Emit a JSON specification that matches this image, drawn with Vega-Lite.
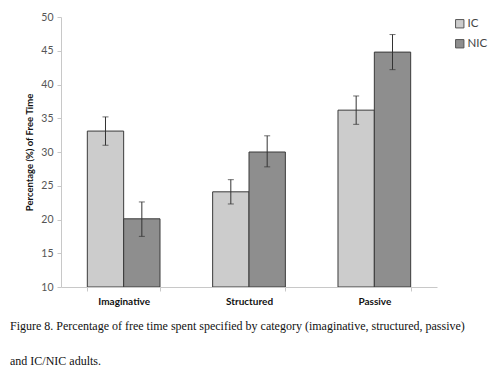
{
  "$schema": "https://vega.github.io/schema/vega-lite/v6.json",
  "autosize": {"type": "none"},
  "width": 376,
  "height": 270,
  "padding": {"left": 61, "top": 17, "right": 63, "bottom": 88},
  "background": "white",
  "config": {"view": {"stroke": null}, "font": "Lato"},
  "title": {
    "text": ["Figure 8. Percentage of free time spent specified by category (imaginative, structured, passive)", "and IC/NIC adults."],
    "orient": "bottom",
    "anchor": "start",
    "frame": "group",
    "dx": -51,
    "offset": 15,
    "font": "Liberation Serif",
    "fontSize": 12,
    "fontWeight": "normal",
    "color": "#111",
    "lineHeight": 35
  },
  "data": {"values": [
    {"category": "Imaginative", "group": "IC", "value": 33.1, "lo": 31.0, "hi": 35.2},
    {"category": "Imaginative", "group": "NIC", "value": 20.1, "lo": 17.5, "hi": 22.6},
    {"category": "Structured", "group": "IC", "value": 24.1, "lo": 22.3, "hi": 25.9},
    {"category": "Structured", "group": "NIC", "value": 30.0, "lo": 27.8, "hi": 32.4},
    {"category": "Passive", "group": "IC", "value": 36.2, "lo": 34.1, "hi": 38.3},
    {"category": "Passive", "group": "NIC", "value": 44.8, "lo": 42.2, "hi": 47.4}
  ]},
  "encoding": {
    "x": {
      "field": "category", "type": "nominal",
      "sort": ["Imaginative", "Structured", "Passive"],
      "scale": {"paddingInner": 0.42, "paddingOuter": 0.21},
      "axis": {
        "title": null, "labelAngle": 0, "tickBand": "extent",
        "domainColor": "#c8c8c8", "tickColor": "#c8c8c8", "tickSize": 4,
        "labelFont": "Lato", "labelFontWeight": "bold", "labelFontSize": 10,
        "labelColor": "#111", "labelPadding": 5
      }
    },
    "xOffset": {"field": "group", "type": "nominal", "sort": ["IC", "NIC"], "scale": {"paddingInner": 0, "paddingOuter": 0}}
  },
  "layer": [
    {
      "mark": {"type": "bar", "stroke": "#3a3a3a", "strokeWidth": 1, "clip": true},
      "encoding": {
        "y": {
          "field": "value", "type": "quantitative",
          "scale": {"domain": [10, 50], "zero": false, "nice": false},
          "axis": {
            "title": "Percentage (%) of Free Time",
            "titleFont": "Lato", "titleFontSize": 9.5, "titleFontWeight": "bold", "titleColor": "#111",
            "titlePadding": 6,
            "values": [10, 15, 20, 25, 30, 35, 40, 45, 50],
            "labelOverlap": false, "labelFlush": false,
            "grid": false, "domainColor": "#c8c8c8", "tickColor": "#c8c8c8", "tickSize": 4,
            "labelFont": "Lato", "labelFontSize": 10.5, "labelColor": "#555", "labelPadding": 4
          }
        },
        "y2": {"datum": 10},
        "color": {
          "field": "group", "type": "nominal",
          "scale": {"domain": ["IC", "NIC"], "range": ["#cccccc", "#8e8e8e"]},
          "legend": {
            "title": null, "orient": "none", "legendX": 393, "legendY": 1,
            "symbolType": "square", "symbolSize": 70, "symbolStrokeColor": "#555", "symbolStrokeWidth": 1,
            "labelFont": "Lato", "labelFontSize": 11.5, "labelColor": "#444", "rowPadding": 7, "labelOffset": 2
          }
        }
      }
    },
    {
      "mark": {"type": "rule", "color": "#333", "strokeWidth": 1},
      "encoding": {
        "y": {"field": "lo", "type": "quantitative",
          "axis": {
            "title": "Percentage (%) of Free Time",
            "titleFont": "Lato", "titleFontSize": 9.5, "titleFontWeight": "bold", "titleColor": "#111",
            "titlePadding": 6,
            "values": [10, 15, 20, 25, 30, 35, 40, 45, 50],
            "labelOverlap": false, "labelFlush": false,
            "grid": false, "domainColor": "#c8c8c8", "tickColor": "#c8c8c8", "tickSize": 4,
            "labelFont": "Lato", "labelFontSize": 10.5, "labelColor": "#555", "labelPadding": 4
          }},
        "y2": {"field": "hi"}
      }
    },
    {
      "mark": {"type": "tick", "color": "#333", "size": 6, "thickness": 1},
      "encoding": {"y": {"field": "lo", "type": "quantitative",
          "axis": {
            "title": "Percentage (%) of Free Time",
            "titleFont": "Lato", "titleFontSize": 9.5, "titleFontWeight": "bold", "titleColor": "#111",
            "titlePadding": 6,
            "values": [10, 15, 20, 25, 30, 35, 40, 45, 50],
            "labelOverlap": false, "labelFlush": false,
            "grid": false, "domainColor": "#c8c8c8", "tickColor": "#c8c8c8", "tickSize": 4,
            "labelFont": "Lato", "labelFontSize": 10.5, "labelColor": "#555", "labelPadding": 4
          }}}
    },
    {
      "mark": {"type": "tick", "color": "#333", "size": 6, "thickness": 1},
      "encoding": {"y": {"field": "hi", "type": "quantitative",
          "axis": {
            "title": "Percentage (%) of Free Time",
            "titleFont": "Lato", "titleFontSize": 9.5, "titleFontWeight": "bold", "titleColor": "#111",
            "titlePadding": 6,
            "values": [10, 15, 20, 25, 30, 35, 40, 45, 50],
            "labelOverlap": false, "labelFlush": false,
            "grid": false, "domainColor": "#c8c8c8", "tickColor": "#c8c8c8", "tickSize": 4,
            "labelFont": "Lato", "labelFontSize": 10.5, "labelColor": "#555", "labelPadding": 4
          }}}
    }
  ]
}
